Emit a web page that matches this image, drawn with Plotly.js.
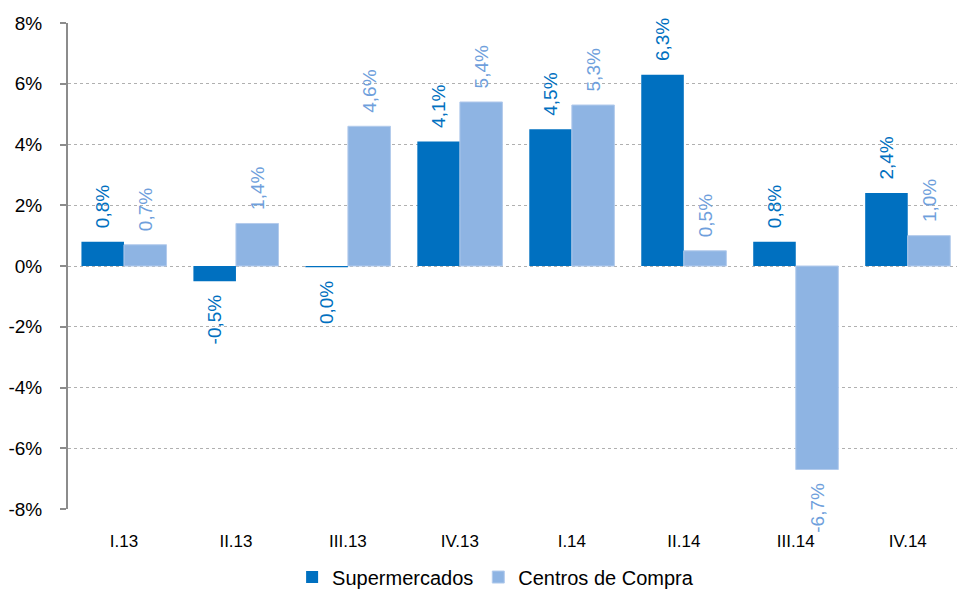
<!DOCTYPE html>
<html>
<head>
<meta charset="utf-8">
<script src="https://cdn.plot.ly/plotly-3.0.1.min.js"></script>
<style>
  html, body { margin: 0; padding: 0; background: #ffffff; }
  #chart { width: 957px; height: 592px; }
</style>
</head>
<body>
<div id="chart"></div>
<script>
// Quarterly variation (%), supermarkets vs. shopping centres
const quarters = ['I.13', 'II.13', 'III.13', 'IV.13', 'I.14', 'II.14', 'III.14', 'IV.14'];
const supermercados = [0.8, -0.5, -0.04, 4.1, 4.5, 6.3, 0.8, 2.4];
const centrosCompra = [0.7, 1.4, 4.6, 5.4, 5.3, 0.5, -6.7, 1.0];
const yTicks = [-8, -6, -4, -2, 0, 2, 4, 6, 8];

const DARK = '#0070C0';
const LIGHT = '#8EB4E3';
const FONT = 'Liberation Sans, Arial, sans-serif';
const PAD = '\u00a0\u00a0';

// Label with one decimal and comma separator; padded on the side facing the bar
function label(v) {
  let s = v.toFixed(1).replace('.', ',');
  if (s === '-0,0') s = '0,0';
  s += '%';
  return v >= 0 ? PAD + s : s + PAD;
}

const common = {
  type: 'bar',
  x: quarters,
  textposition: 'outside',
  textangle: -90,
  cliponaxis: false,
  constraintext: 'none',
  hoverinfo: 'skip'
};

const traces = [
  Object.assign({}, common, {
    name: 'Supermercados',
    y: supermercados,
    text: supermercados.map(label),
    marker: { color: DARK },
    textfont: { color: DARK, size: 19, family: FONT }
  }),
  Object.assign({}, common, {
    name: 'Centros de Compra',
    y: centrosCompra,
    text: centrosCompra.map(label),
    marker: { color: LIGHT, line: { color: '#b3cbec', width: 1 } },
    textfont: { color: '#6f9fdc', size: 19, family: FONT }
  })
];

// the category axis runs slightly past the right edge of the canvas
const X_RANGE = [-0.5, 7.44];

const layout = {
  width: 957,
  height: 592,
  margin: { l: 68, r: 0, t: 23, b: 83, autoexpand: false },
  paper_bgcolor: '#ffffff',
  plot_bgcolor: '#ffffff',
  font: { family: FONT, color: '#000000' },
  barmode: 'group',
  bargap: 0.24,
  bargroupgap: 0,
  showlegend: true,
  legend: {
    orientation: 'h',
    x: 0.481,
    xanchor: 'center',
    y: -0.14,
    yanchor: 'middle',
    font: { size: 20, color: '#000000', family: FONT },
    itemwidth: 30,
    tracegroupgap: 0
  },
  xaxis: {
    type: 'category',
    range: X_RANGE,
    showline: false,
    showgrid: false,
    zeroline: false,
    ticks: '',
    ticklabelstandoff: 20,
    tickfont: { size: 17, color: '#000000', family: FONT },
    fixedrange: true
  },
  // axis line along zero, with ticks between the quarters
  xaxis2: {
    overlaying: 'x',
    matches: 'x',
    type: 'category',
    anchor: 'free',
    position: 0.5,
    showline: true,
    linecolor: '#8c8c8c',
    linewidth: 2,
    ticks: 'outside',
    tickson: 'boundaries',
    ticklen: 6,
    tickcolor: '#8c8c8c',
    tickwidth: 2,
    showticklabels: false,
    showgrid: false,
    zeroline: false
  },
  yaxis: {
    range: [-8, 8],
    tickvals: yTicks,
    ticktext: yTicks.map(v => v + '%'),
    showline: true,
    linecolor: '#8c8c8c',
    linewidth: 2,
    ticks: 'outside',
    ticklen: 6,
    tickcolor: '#8c8c8c',
    tickwidth: 2,
    ticklabelstandoff: 14,
    showgrid: true,
    gridcolor: '#b0b0b0',
    gridwidth: 1,
    griddash: 'dot',
    zeroline: false,
    tickfont: { size: 19, color: '#000000', family: FONT },
    fixedrange: true
  }
};

Plotly.newPlot('chart', traces, layout, { displayModeBar: false, staticPlot: true });
</script>
</body>
</html>
